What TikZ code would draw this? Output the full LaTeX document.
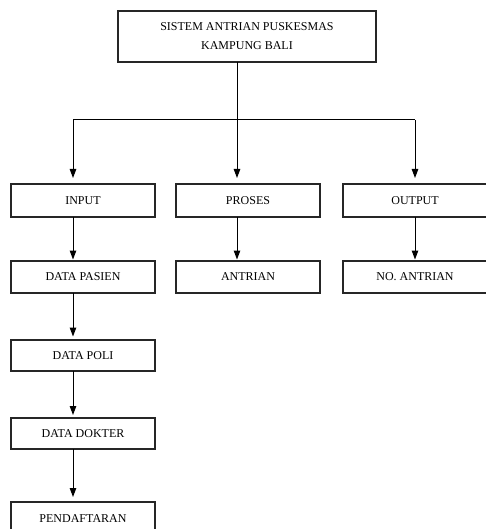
\documentclass[tikz,border=0pt]{standalone}
\usepackage{fontspec}
\setmainfont{Liberation Serif}
\usetikzlibrary{arrows.meta,calc}
\begin{document}
\begin{tikzpicture}[x=1pt,y=-1pt,
  box/.style={draw=black!85,line width=1.2pt,inner sep=0pt,outer sep=0pt,
    anchor=north west,minimum width=144pt,font=\fontsize{12}{19}\selectfont,align=center},
  arr/.style={line width=1pt,-{Triangle[length=9pt,width=6.5pt]}},
  ln/.style={line width=1pt}]
\useasboundingbox (0,0) rectangle (486,529);
\clip (0,0) rectangle (486,529);
\fill[white] (0,0) rectangle (486,529);
% top
\node[box,minimum width=258pt,minimum height=51pt] (top) at (118,11) {SISTEM ANTRIAN PUSKESMAS\\KAMPUNG BALI};
% row 1
\node[box,minimum height=33pt] (input) at (11,184) {INPUT};
\node[box,minimum height=33pt] (proses) at (176,184) {PROSES};
\node[box,minimum height=33pt] (output) at (343,184) {OUTPUT};
% row 2
\node[box,minimum height=32pt] (pasien) at (11,261) {DATA PASIEN};
\node[box,minimum height=32pt] (antrian) at (176,261) {ANTRIAN};
\node[box,minimum height=32pt] (noantrian) at (343,261) {NO. ANTRIAN};
% column
\node[box,minimum height=31pt] (poli) at (11,340) {DATA POLI};
\node[box,minimum height=31pt] (dokter) at (11,418) {DATA DOKTER};
\node[box,minimum height=34pt] (daftar) at (11,502) {PENDAFTARAN};
% connector x positions
\coordinate (c1) at (73,0);
\coordinate (c2) at (237,0);
\coordinate (c3) at (415,0);
\coordinate (bar) at (0,120);
% top branching
\draw[ln] (top.south -| c2) -- (bar -| c2);
\draw[ln] (bar -| c1) -- (bar -| c3);
\draw[arr,shorten >=6pt] (bar -| c1) -- (input.north -| c1);
\draw[arr,shorten >=6pt] (bar -| c2) -- (proses.north -| c2);
\draw[arr,shorten >=6pt] (bar -| c3) -- (output.north -| c3);
% row 1 -> row 2
\draw[arr,shorten >=1.5pt] (input.south -| c1) -- (pasien.north -| c1);
\draw[arr,shorten >=1.5pt] (proses.south -| c2) -- (antrian.north -| c2);
\draw[arr,shorten >=1.5pt] (output.south -| c3) -- (noantrian.north -| c3);
% column
\draw[arr,shorten >=3.5pt] (pasien.south -| c1) -- (poli.north -| c1);
\draw[arr,shorten >=3pt] (poli.south -| c1) -- (dokter.north -| c1);
\draw[arr,shorten >=5pt] (dokter.south -| c1) -- (daftar.north -| c1);
\end{tikzpicture}
\end{document}
